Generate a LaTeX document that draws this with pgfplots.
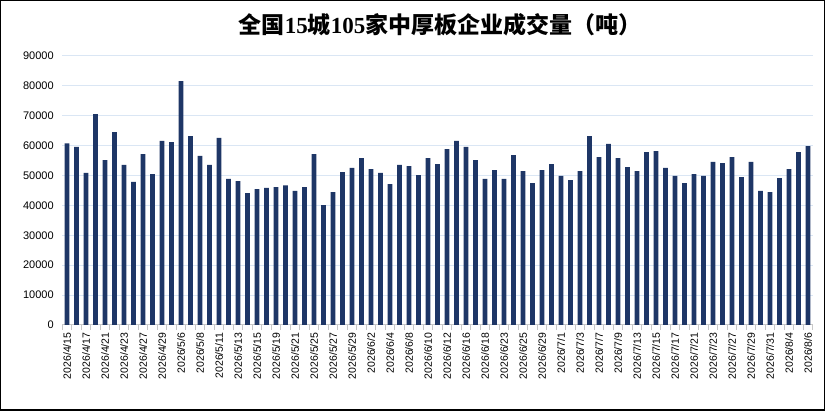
\documentclass[border=0pt]{standalone}
\usepackage{pgfplots}
\pgfplotsset{compat=1.18}
\usetikzlibrary{calc}
\usepackage{fontspec}
\setmainfont{Liberation Sans}
\newfontfamily\cjk{Noto Sans CJK SC}
\newfontfamily\serif{Liberation Serif}
\definecolor{barnavy}{RGB}{30,54,102}
\definecolor{gridblue}{RGB}{218,230,244}
\definecolor{axgray}{RGB}{200,200,200}
\begin{document}
\begin{tikzpicture}[x=1pt,y=1pt]
\begin{axis}[
  scale only axis, width=750.5pt, height=269.3pt,
  xmin=-0.5, xmax=78.5, ymin=0, ymax=90000,
  ytick={0,10000,...,90000},
  scaled y ticks=false,
  yticklabel style={font=\fontsize{11}{11}\selectfont, xshift=-5pt},
  /pgf/number format/assume math mode=true,
  /pgf/number format/1000 sep={},
  ymajorgrids, major grid style={gridblue, line width=1pt},
  axis x line*=bottom, axis y line*=left,
  y axis line style={draw=none},
  x axis line style={axgray, line width=1pt},
  xtick={0,2,...,78},
  xticklabels={2026/4/15,2026/4/17,2026/4/21,2026/4/23,2026/4/27,2026/4/29,2026/5/6,2026/5/8,2026/5/11,2026/5/13,2026/5/15,2026/5/19,2026/5/21,2026/5/25,2026/5/27,2026/5/29,2026/6/2,2026/6/4,2026/6/8,2026/6/10,2026/6/12,2026/6/16,2026/6/18,2026/6/23,2026/6/25,2026/6/29,2026/7/1,2026/7/3,2026/7/7,2026/7/9,2026/7/13,2026/7/15,2026/7/17,2026/7/21,2026/7/23,2026/7/27,2026/7/29,2026/7/31,2026/8/4,2026/8/6},
  xticklabel style={font=\fontsize{10.5}{10.5}\selectfont, rotate=90, anchor=east, xshift=-4pt, yshift=0pt},
  major tick length=0pt,
  minor xtick={-0.5,0.5,...,78.5},
  minor tick length=5pt,
  tick align=outside,
  minor tick style={axgray, line width=1pt},
  every tick/.style={axgray},
]
\coordinate (O) at (axis cs:-0.5,0);
\addplot[ybar, bar width=4.6pt, fill=barnavy, draw=none] coordinates {
(0,60700) (1,59500) (2,50800) (3,70500) (4,55100) (5,64500) (6,53500) (7,47800) (8,57100) (9,50400)
(10,61500) (11,61100) (12,81500) (13,63100) (14,56500) (15,53500) (16,62500) (17,48800) (18,48100) (19,44100)
(20,45400) (21,45800) (22,46100) (23,46700) (24,44800) (25,46100) (26,57100) (27,40100) (28,44400) (29,51100)
(30,52500) (31,55800) (32,52100) (33,50800) (34,47100) (35,53500) (36,53100) (37,50100) (38,55800) (39,53800)
(40,58800) (41,61500) (42,59500) (43,55100) (44,48800) (45,51800) (46,48800) (47,56800) (48,51400) (49,47400)
(50,51800) (51,53800) (52,49800) (53,48400) (54,51400) (55,63100) (56,56100) (57,60500) (58,55800) (59,52800)
(60,51400) (61,57800) (62,58100) (63,52500) (64,49800) (65,47400) (66,50400) (67,49800) (68,54500) (69,54100)
(70,56100) (71,49400) (72,54500) (73,44800) (74,44400) (75,49100) (76,52100) (77,57800) (78,59800)
};
\end{axis}
\pgfresetboundingbox
\path[use as bounding box] ($(O)+(-62.25,-86)$) rectangle +(825,411);
\draw[black,line width=1.5pt] ($(O)+(-61.5,-85.25)$) rectangle +(823.5,409.5);
\node at ($(O)+(377.75,300)$) {\fontsize{23}{23}\selectfont\bfseries{\cjk 全国}{\serif 15}{\cjk 城}{\serif 105}{\cjk 家中厚板企业成交量（吨）}};
\end{tikzpicture}
\end{document}
